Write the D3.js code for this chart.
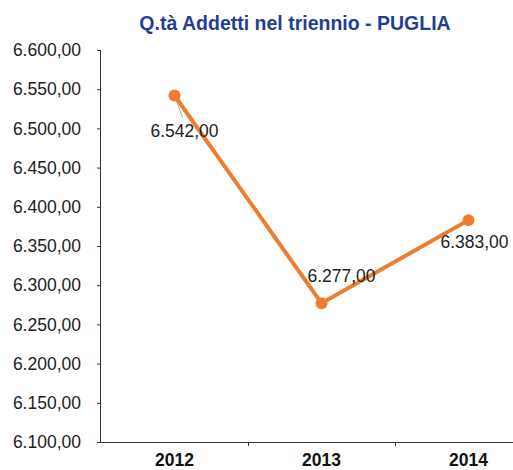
<!DOCTYPE html>
<html lang="en">
<head>
    <meta charset="utf-8">
    <title>Q.tà Addetti nel triennio - PUGLIA</title>
    <script src="https://d3js.org/d3.v7.min.js"></script>
    <style>
        body { margin: 0; background: #fff; }
        svg { display: block; font-family: "Liberation Sans", Arial, sans-serif; }
    </style>
</head>
<body>
<div id="chart"></div>
<script>
    // Data
    const years = ["2012", "2013", "2014"];
    const addetti = [6542, 6277, 6383];
    const yTicks = [6100, 6150, 6200, 6250, 6300, 6350, 6400, 6450, 6500, 6550, 6600];
    // label offsets from the point (dx, dy)
    const labelOffsets = [[10, 37], [20, -26], [6, 23]];

    const W = 513, H = 470;
    const plotLeft = 101, plotBottom = 442, plotTop = 50;

    const svg = d3.select("#chart").append("svg")
        .attr("width", W)
        .attr("height", H);

    const x = d3.scaleBand()
        .domain(years)
        .range([plotLeft, plotLeft + 147 * 3]);

    const y = d3.scaleLinear()
        .domain([6100, 6600])
        .range([plotBottom, plotTop]);

    const itFmt = d3.formatLocale({decimal: ",", thousands: ".", grouping: [3], currency: ["€", ""]});
    const fmt = itFmt.format(",.2f");

    // Title
    svg.append("text")
        .attr("x", 295)
        .attr("y", 30)
        .attr("text-anchor", "middle")
        .attr("font-size", "19.5px")
        .attr("font-weight", "bold")
        .attr("fill", "#1f3f94")
        .text("Q.tà Addetti nel triennio - PUGLIA");

    // Y axis
    const yAxis = svg.append("g")
        .attr("transform", `translate(${plotLeft},0)`)
        .call(d3.axisLeft(y).tickValues(yTicks).tickFormat(fmt).tickSize(4).tickPadding(16));
    yAxis.select(".domain").attr("stroke", "#333").attr("d", `M-0.5,${plotTop}V${plotBottom}`);
    yAxis.selectAll(".tick line").attr("stroke", "#333");
    yAxis.selectAll(".tick text")
        .attr("font-size", "17.5px")
        .attr("fill", "#222")
        .attr("font-family", "'Liberation Sans', Arial, sans-serif");

    // X axis
    const xAxis = svg.append("g")
        .attr("transform", `translate(0,${plotBottom})`)
        .call(d3.axisBottom(x).tickSize(0).tickPadding(12));
    xAxis.select(".domain").attr("stroke", "#333").attr("d", `M${plotLeft - 4},0.5H${W}`);
    xAxis.selectAll(".tick text")
        .attr("font-size", "17.5px")
        .attr("font-weight", "bold")
        .attr("fill", "#111")
        .attr("font-family", "'Liberation Sans', Arial, sans-serif");
    // category separators
    xAxis.selectAll(".sep")
        .data(years.slice(1))
        .join("line")
        .attr("x1", d => x(d) + 0.5)
        .attr("x2", d => x(d) + 0.5)
        .attr("y1", 0)
        .attr("y2", 4)
        .attr("stroke", "#333");

    const pts = years.map((yr, i) => ({yr, v: addetti[i], off: labelOffsets[i]}));
    const cx = d => x(d.yr) + x.bandwidth() / 2;

    // Leader lines
    svg.selectAll(".leader")
        .data(pts.slice(0, 2))
        .join("line")
        .attr("x1", d => cx(d))
        .attr("y1", d => y(d.v))
        .attr("x2", (d, i) => cx(d) + (i === 0 ? 8 : 20))
        .attr("y2", (d, i) => y(d.v) + (i === 0 ? 22 : -12))
        .attr("stroke", "#aaa")
        .attr("stroke-width", 1);

    // Line
    svg.append("path")
        .datum(pts)
        .attr("fill", "none")
        .attr("stroke", "#ed7d31")
        .attr("stroke-width", 4)
        .attr("d", d3.line().x(cx).y(d => y(d.v)));

    // Markers
    svg.selectAll(".dot")
        .data(pts)
        .join("circle")
        .attr("cx", cx)
        .attr("cy", d => y(d.v))
        .attr("r", 6)
        .attr("fill", "#ed7d31");

    // Data labels
    svg.selectAll(".lbl")
        .data(pts)
        .join("text")
        .attr("x", d => cx(d) + d.off[0])
        .attr("y", d => y(d.v) + d.off[1])
        .attr("text-anchor", "middle")
        .attr("dominant-baseline", "middle")
        .attr("font-size", "17.5px")
        .attr("fill", "#222")
        .text(d => fmt(d.v));
</script>
</body>
</html>
